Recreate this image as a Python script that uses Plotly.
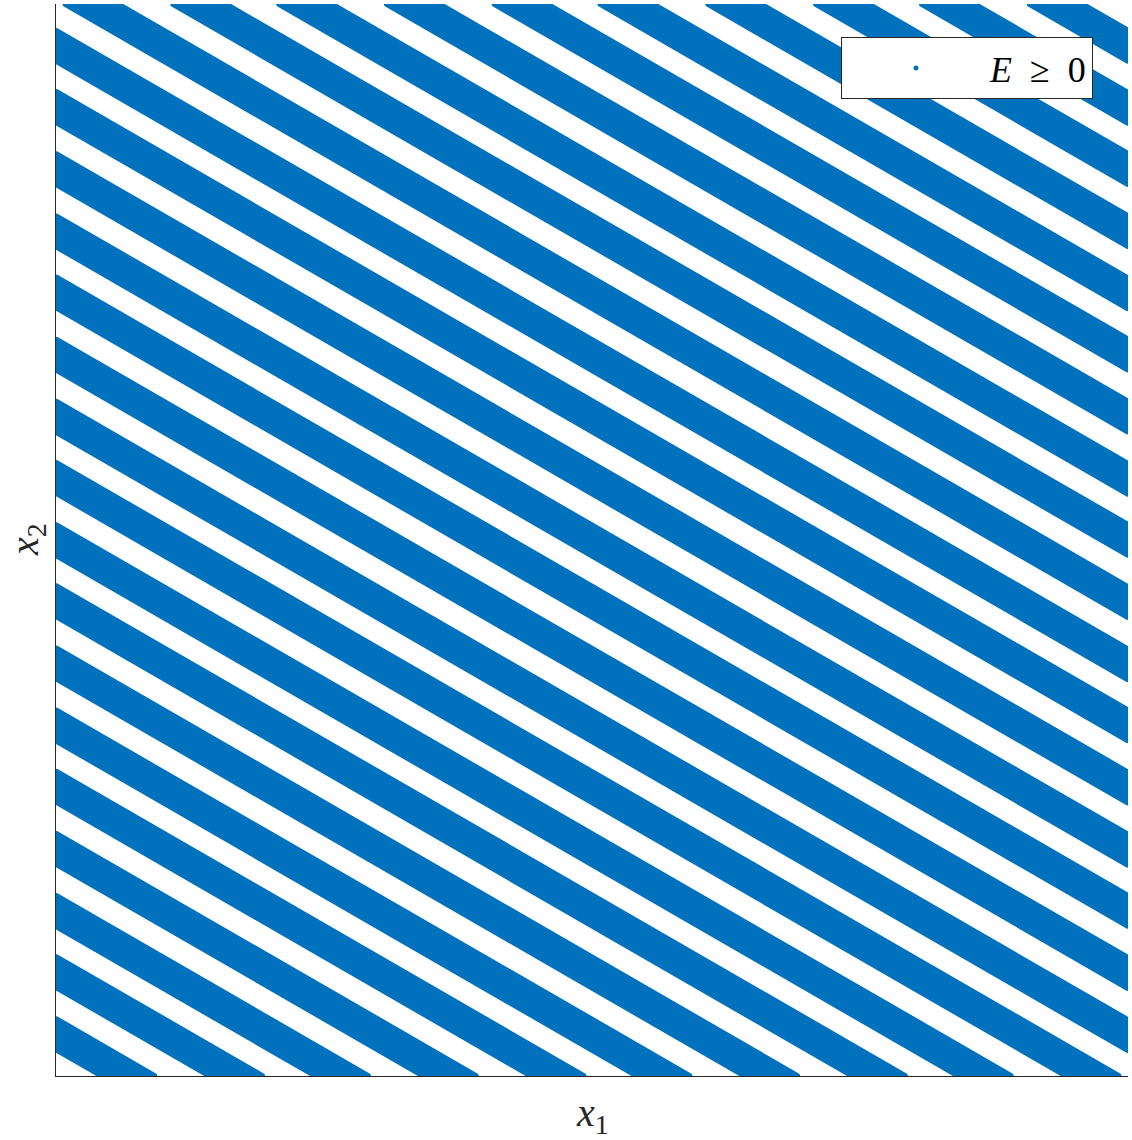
import numpy as np
import plotly.graph_objects as go

# ---- data ----
x1_range = [0.0, 1.0]
x2_range = [0.0, 1.0]
# x2 value where the centre line of each E>=0 stripe meets x1 = 0
stripe_intercepts = [0.039, 0.097, 0.154, 0.212, 0.270, 0.327, 0.385, 0.443,
                     0.500, 0.558, 0.615, 0.673, 0.731, 0.788, 0.846, 0.904,
                     0.961, 1.019, 1.077, 1.134, 1.192, 1.250, 1.307, 1.365,
                     1.423, 1.480, 1.538]
stripe_slope = -0.577        # dx2/dx1 of the stripes
stripe_halfwidth = 0.0140    # half thickness of each stripe (in x2 units)
legend_label = "<i>E</i>\u00a0\u00a0\u2265\u00a0\u00a00"
x_label = "<i>x</i><sub>1</sub>"
y_label = "<i>x</i><sub>2</sub>"
blue = "#0072BD"
axis_color = "#262626"

# plotting style (dot radius of the original point markers, in pixels)
plot_px = 1072
dot_radius = 3.0 / plot_px


def clip_halfplane(pts, a, b, t):
    """Keep the part of a convex polygon where a*x + b*y >= t."""
    out = []
    n = len(pts)
    for i in range(n):
        P, Q = pts[i], pts[(i + 1) % n]
        fp = a * P[0] + b * P[1] - t
        fq = a * Q[0] + b * Q[1] - t
        if fp >= 0:
            out.append(P)
        if (fp >= 0) != (fq >= 0):
            u = fp / (fp - fq)
            out.append((P[0] + u * (Q[0] - P[0]), P[1] + u * (Q[1] - P[1])))
    clean = []
    for p in out:
        if not clean or np.hypot(p[0] - clean[-1][0], p[1] - clean[-1][1]) > 1e-9:
            clean.append(p)
    if len(clean) > 1 and np.hypot(clean[0][0] - clean[-1][0], clean[0][1] - clean[-1][1]) < 1e-9:
        clean.pop()
    return clean


def rounded_outline(poly, r, m=10):
    """Outline of a convex CCW polygon grown by a disc of radius r."""
    n = len(poly)
    xs, ys = [], []
    for i in range(n):
        v = np.array(poly[i]); p = np.array(poly[i - 1]); q = np.array(poly[(i + 1) % n])
        din = v - p; dout = q - v
        nin = np.array([din[1], -din[0]]) / np.hypot(*din)
        nout = np.array([dout[1], -dout[0]]) / np.hypot(*dout)
        a0 = np.arctan2(nin[1], nin[0]); a1 = np.arctan2(nout[1], nout[0])
        while a1 < a0:
            a1 += 2 * np.pi
        for t in np.linspace(a0, a1, m):
            xs.append(v[0] + r * np.cos(t)); ys.append(v[1] + r * np.sin(t))
    xs.append(xs[0]); ys.append(ys[0])
    return xs, ys


# ---- region E >= 0, one closed shape per stripe ----
rect = [(x1_range[0], x2_range[0]), (x1_range[1], x2_range[0]),
        (x1_range[1], x2_range[1]), (x1_range[0], x2_range[1])]
a_coef, b_coef = -stripe_slope, 1.0
fx, fy = [], []
for c in stripe_intercepts:
    poly = clip_halfplane(rect, a_coef, b_coef, c - stripe_halfwidth)
    poly = clip_halfplane(poly, -a_coef, -b_coef, -(c + stripe_halfwidth))
    if len(poly) < 3:
        continue
    xs, ys = rounded_outline(poly, dot_radius)
    fx += xs + [None]; fy += ys + [None]

fig = go.Figure()
fig.add_trace(go.Scatter(
    x=fx, y=fy, mode="lines", fill="toself", fillcolor=blue,
    line=dict(width=0, color=blue), legendgroup="E", showlegend=False,
    cliponaxis=False, hoverinfo="skip"))
fig.add_trace(go.Scatter(
    x=[None], y=[None], mode="markers", legendgroup="E", name=legend_label,
    marker=dict(size=5, color=blue, line=dict(width=0))))

font_family = "Liberation Serif, Times New Roman, serif"
label_font = dict(size=40, family=font_family, color=axis_color)
fig.update_layout(
    width=1132, height=1140,
    margin=dict(l=56, r=4, t=4, b=64, autoexpand=False),
    paper_bgcolor="white", plot_bgcolor="white",
    font=dict(family=font_family, color=axis_color),
    xaxis=dict(range=x1_range, showline=True, linecolor=axis_color, linewidth=1,
               showgrid=False, zeroline=False, showticklabels=False, ticks="",
               layer="above traces", automargin=False),
    yaxis=dict(range=x2_range, showline=True, linecolor=axis_color, linewidth=1,
               showgrid=False, zeroline=False, showticklabels=False, ticks="",
               layer="above traces", automargin=False),
    annotations=[
        dict(text=x_label, xref="paper", yref="paper", x=0.5, y=-0.036,
             xanchor="center", yanchor="middle", showarrow=False, font=label_font),
        dict(text=y_label, xref="paper", yref="paper", x=-0.027, y=0.5,
             xanchor="center", yanchor="middle", showarrow=False, textangle=-90,
             font=label_font),
    ],
    legend=dict(x=(1093 - 56) / 1072, xanchor="right",
                y=(1076 - 37) / 1072, yanchor="top",
                bgcolor="white", bordercolor=axis_color, borderwidth=1,
                itemwidth=138,
                font=dict(family=font_family, size=36, color="black")),
    showlegend=True,
)

fig.write_html("out.html")
